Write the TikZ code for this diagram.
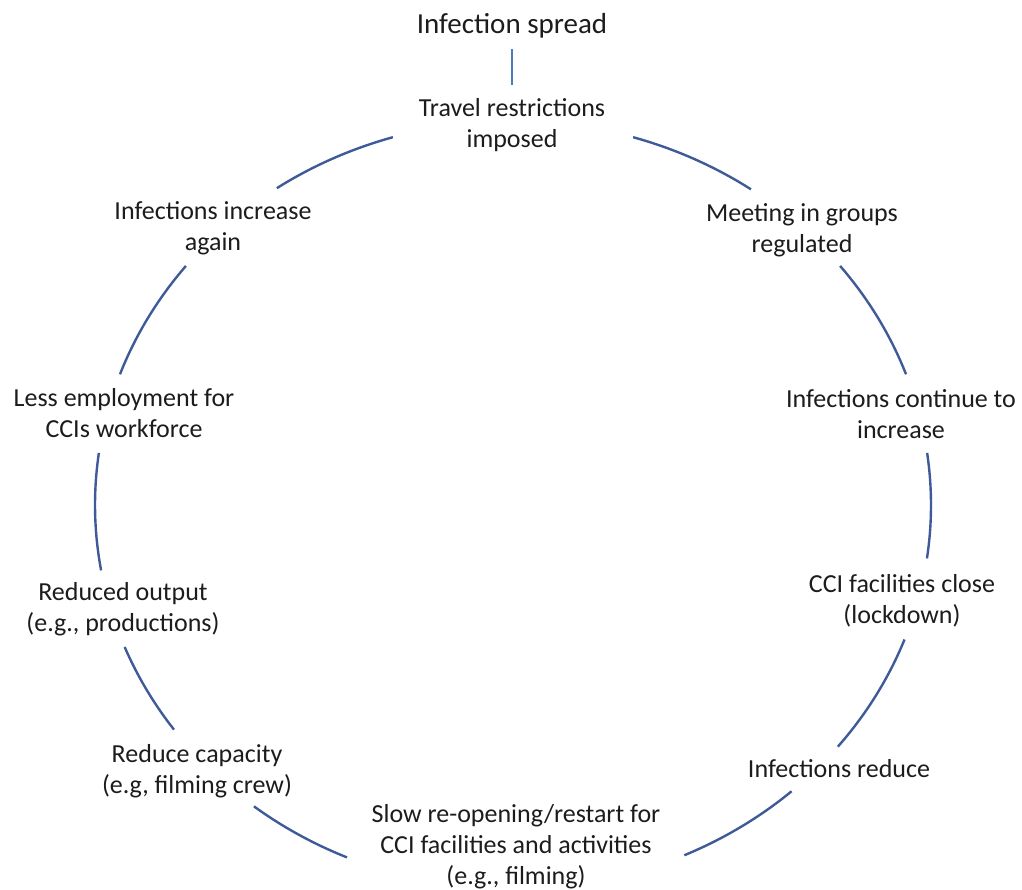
\documentclass[tikz,border=0pt]{standalone}
\usepackage{fontspec}
\setmainfont{Carlito}
\definecolor{arcblue}{RGB}{62,90,152}
\definecolor{stemblue}{RGB}{80,120,190}
\definecolor{txt}{RGB}{28,28,28}
\begin{document}
\begin{tikzpicture}[x=1pt,y=-1pt,
  lab/.style={font=\fontsize{26}{31}\selectfont, text=txt, align=center, inner sep=0pt, anchor=base},
  ring/.style={draw=arcblue, line width=2.4pt},
  stem/.style={draw=stemblue, line width=1.2pt}]
\useasboundingbox (0,0) rectangle (1022,890);
\coordinate (O) at (513,505);
% labels (anchor = baseline of last line)
\node[lab, font=\fontsize{29}{35}\selectfont] (title) at (512,34) {Infection spread};
\node[lab] (travel) at (512,148) {Travel restrictions\\imposed};
\node[lab] (meet) at (802,253) {Meeting in groups\\regulated};
\node[lab] (cont) at (901,438) {Infections continue to\\increase};
\node[lab] (close) at (902,623) {CCI facilities close\\(lockdown)};
\node[lab] (reduce) at (839,777) {Infections reduce};
\node[lab] (slow) at (516,884) {Slow re-opening/restart for\\CCI facilities and activities\\(e.g., filming)};
\node[lab] (cap) at (197,793) {Reduce capacity\\(e.g, filming crew)};
\node[lab] (output) at (123,631) {Reduced output\\(e.g., productions)};
\node[lab] (employ) at (124,437) {Less employment for\\CCIs workforce};
\node[lab] (again) at (213,251) {Infections increase\\again};
% stem
\coordinate (stemtop) at ([yshift=-10pt]title.south);
\coordinate (stembot) at ([yshift=14pt]travel.north);
\draw[stem] (stemtop) -- (stembot);
% ring arcs
\foreach \s/\e/\n in {124.4/106.7/againtravel, 73.3/55.3/travelmeet, 38.5/19.9/meetcont,
  7.8/-8.0/contclose, -20.5/-39.0/closereduce, -48.2/-65.8/reduceslow,
  -113.4/-128.3/slowcap, 215.8/201.7/capoutput, 189.8/172.2/outputemploy, 160.1/141.5/employagain}{
  \coordinate (\n) at ([shift={(\s:418pt and 384pt)}]O);
  \draw[ring] (\n) arc[start angle=\s, end angle=\e, x radius=418pt, y radius=384pt];
}
\end{tikzpicture}
\end{document}
